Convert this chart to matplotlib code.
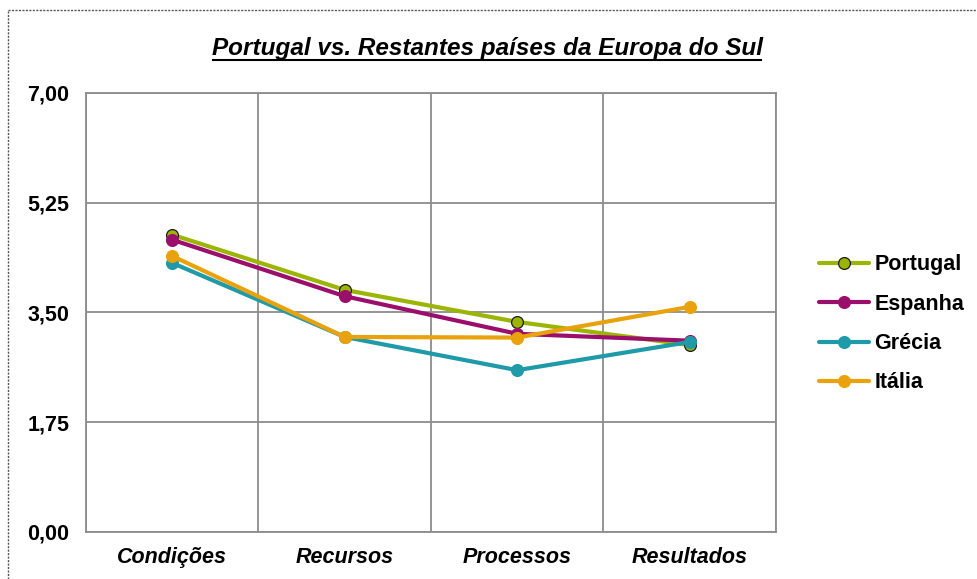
import matplotlib
matplotlib.use("Agg")
import matplotlib.pyplot as plt
from matplotlib.lines import Line2D

plt.rcParams['font.family'] = ['Liberation Sans', 'DejaVu Sans']

categorias = ["Condições", "Recursos", "Processos", "Resultados"]
portugal = [4.74, 3.86, 3.35, 2.98]
espanha = [4.66, 3.76, 3.16, 3.05]
grecia = [4.29, 3.11, 2.58, 3.03]
italia = [4.40, 3.11, 3.10, 3.59]
yticks = [0.0, 1.75, 3.5, 5.25, 7.0]
ytick_labels = ["0,00", "1,75", "3,50", "5,25", "7,00"]

series = [
    ("Portugal", portugal, "#9cb404", "#1a1a1a"),
    ("Espanha", espanha, "#9a0e6c", None),
    ("Grécia", grecia, "#1e9aa8", None),
    ("Itália", italia, "#e9a20b", None),
]

fig = plt.figure(figsize=(9.78, 5.79), dpi=100)
ax = fig.add_axes([0.0879, 0.0812, 0.7055, 0.7582])

x = list(range(len(categorias)))
for name, vals, col, edge in series:
    ax.plot(x, vals, color=col, lw=3.0, marker="o", markersize=8.5,
            markerfacecolor=col, markeredgecolor=edge if edge else col,
            markeredgewidth=0.9, label=name, solid_capstyle="round")

ax.set_xlim(-0.5, 3.5)
ax.set_ylim(0, 7)
ax.set_yticks(yticks)
ax.set_yticklabels(ytick_labels, fontsize=15.5, fontweight="bold")
ax.set_xticks(x)
ax.set_xticklabels(categorias, fontsize=15.5, fontweight="bold", style="italic")
ax.set_xticks([-0.5, 0.5, 1.5, 2.5, 3.5], minor=True)
ax.tick_params(axis="both", which="both", length=0)
ax.tick_params(axis="y", pad=12)
ax.tick_params(axis="x", pad=11)
ax.grid(True, axis="y", color="#8c8c8c", lw=1.3)
ax.grid(True, axis="x", which="minor", color="#8c8c8c", lw=1.3)
ax.set_axisbelow(True)
for s in ax.spines.values():
    s.set_color("#8c8c8c")
    s.set_linewidth(1.3)

leg = ax.legend(loc="center left", bbox_to_anchor=(1.035, 0.474), frameon=False,
                prop={"size": 15.5, "weight": "bold"}, handlelength=2.3,
                labelspacing=0.85, handletextpad=0.25)

title = fig.text(0.498, 0.905, "Portugal vs. Restantes países da Europa do Sul",
                 ha="center", va="baseline", fontsize=17.5, fontweight="bold",
                 style="italic")

# underline the title
fig.canvas.draw()
bb = title.get_window_extent().transformed(fig.transFigure.inverted())
uy = 0.905 - 0.008
fig.add_artist(Line2D([bb.x0 + 0.002, bb.x1 - 0.002], [uy, uy], transform=fig.transFigure,
                      color="black", lw=1.5))

# dotted frame (top and left only visible)
fig.add_artist(Line2D([8 / 978, 1.0], [1 - 10 / 579, 1 - 10 / 579], transform=fig.transFigure,
                      color="#555555", lw=1, ls=(0, (1.5, 1))))
fig.add_artist(Line2D([8 / 978, 8 / 978], [0, 1 - 10 / 579], transform=fig.transFigure,
                      color="#555555", lw=1, ls=(0, (1.5, 1))))

fig.savefig("out.png", dpi=100)
